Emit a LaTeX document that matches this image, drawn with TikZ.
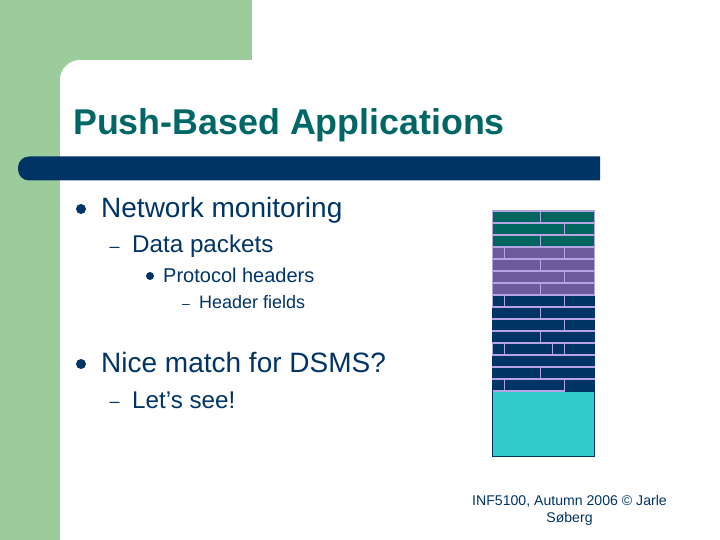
\documentclass[tikz,border=0pt]{standalone}
\usepackage{fontspec}
\setmainfont{Liberation Sans}
\definecolor{sidegreen}{HTML}{9CCC9C}
\definecolor{titleteal}{HTML}{006666}
\definecolor{navy}{HTML}{003366}
\definecolor{pktteal}{HTML}{00665F}
\definecolor{pktpurple}{HTML}{6B5B9B}
\definecolor{pktline}{HTML}{B4A4E4}
\definecolor{pktcyan}{HTML}{33CCCC}
\tikzset{
    txt/.style={anchor=base west,inner sep=0,text=navy},
    lvlone/.style={txt,font=\fontsize{28}{30}\selectfont},
    lvltwo/.style={txt,font=\fontsize{24.2}{28}\selectfont},
    lvlthree/.style={txt,font=\fontsize{20}{24}\selectfont},
    lvlfour/.style={txt,font=\fontsize{18}{20}\selectfont},
    dashtwo/.style={txt,font=\fontsize{18}{20}\selectfont},
    dashfour/.style={txt,font=\fontsize{14}{16}\selectfont},
    pkt/.style={pktline,line width=1.3pt},
}
\begin{document}
\begin{tikzpicture}[x=1pt,y=-1pt]
    \useasboundingbox (0,0) rectangle (720,540);

    % Green backdrop and white page corner
    \fill[sidegreen] (0,0) rectangle (252,60);
    \fill[sidegreen] (0,0) rectangle (60,540);
    \fill[sidegreen] (60,60) rectangle (80,80);
    \fill[white] (60,80) .. controls (60,69) and (69,60) .. (80,60) -- (80,80) -- cycle;

    % Title and rule
    \node[anchor=base west,inner sep=0,text=titleteal,font=\fontsize{35.8}{40}\bfseries\selectfont]
        (title) at (73,135) {Push-Based Applications};
    \fill[navy] (600,180.5) [rounded corners=11] -- (18,180.5) -- (18,156.5) [sharp corners] -- (600,156.5) -- cycle;

    % Bullets
    \fill[navy] (81,209) circle (5);
    \node[lvlone] (network) at (101,217.5) {Network monitoring};
    \node[dashtwo] (dashdata) at (109.5,252) {–};
    \node[lvltwo] (data) at (132,252) {Data packets};
    \fill[navy] (150,276) circle (4);
    \node[lvlthree] (proto) at (163,282) {Protocol headers};
    \node[dashfour] (dashfield) at (182,308) {–};
    \node[lvlfour] (field) at (199,308) {Header fields};
    \fill[navy] (81,364) circle (5);
    \node[lvlone] (nice) at (101,372.5) {Nice match for DSMS?};
    \node[dashtwo] (dashsee) at (109.5,407) {–};
    \node[lvltwo] (see) at (132,408) {Let’s see!};

    % Packet stack, one row per line: top / colour / dividers
    \fill[pktcyan] (492.5,391) rectangle (594.5,456);
    \draw[navy] (492.5,391) rectangle (594.5,456);
    \foreach \rowy/\rowcol/\cuts in {
        211/pktteal/{540},223/pktteal/{564},235/pktteal/{540},
        247/pktpurple/{504,564},259/pktpurple/{540},271/pktpurple/{564},283/pktpurple/{540},
        295/navy/{504,564},307/navy/{540},319/navy/{564},331/navy/{540},
        343/navy/{504,552,564},355/navy/{},367/navy/{540},379/navy/{504,564}}{
        \fill[\rowcol] (492,\rowy) rectangle (595,\rowy+12);
        \draw[pkt] (492,\rowy) -- (595,\rowy);
        \foreach \cutx in \cuts {
            \draw[pkt] (\cutx+.5,\rowy) -- (\cutx+.5,\rowy+12);
        }
    }
    \draw[pkt] (492.5,211) -- (492.5,307) (594.5,211) -- (594.5,295);
    \draw[pkt] (492.5,343) -- (492.5,355);
    \draw[pkt] (492.5,391) -- (564.5,391);

    % Footer
    \node[align=center,inner sep=0,text=navy,font=\fontsize{14.1}{17.5}\selectfont]
        (footer) at (569.5,510.5) {INF5100, Autumn 2006 © Jarle\\Søberg};
\end{tikzpicture}
\end{document}
